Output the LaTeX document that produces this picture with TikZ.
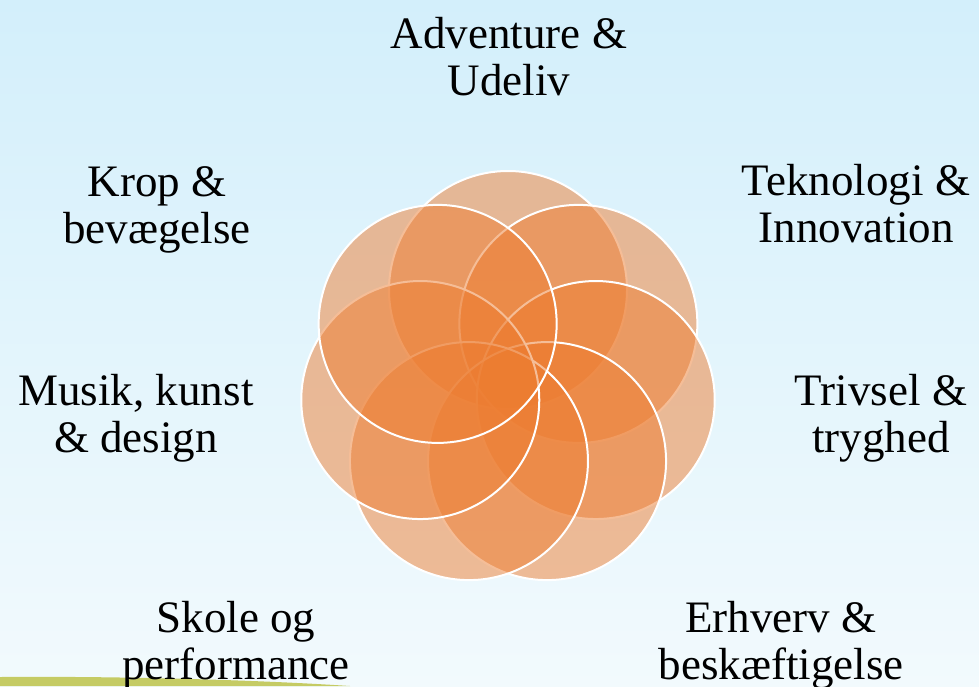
\documentclass[tikz,border=0pt]{standalone}
\usepackage{fontspec}
\setmainfont{Liberation Serif}
\definecolor{petalorange}{HTML}{ED7D31}
\definecolor{skytop}{HTML}{D3EFFB}
\definecolor{skybottom}{HTML}{F2FAFD}
\definecolor{grass}{HTML}{C5CB64}
\tikzset{
  petal/.style={circle,minimum size=238pt,inner sep=0pt,fill=petalorange,fill opacity=.5,draw=white,line width=2pt},
  topic/.style={align=center,anchor=base,font=\fontsize{45}{47}\selectfont,text=black}
}
\begin{document}
\begin{tikzpicture}[x=1pt,y=-1pt]
    \useasboundingbox (0,0) rectangle (979,686);
    \shade[top color=skytop,bottom color=skybottom] (0,0) rectangle (979,686);
    % grass strip bottom left
    \fill[grass] (0,677) .. controls (120,676) and (260,680) .. (350,686) -- (0,686) -- cycle;
    % ring of seven circles, clockwise from the top
    \begin{scope}[shift={(508,380)}]
        \foreach \nm [count=\i] in {adv,tek,tri,erh,sko,mus,kro}
            \node[petal] (\nm) at ({90-(\i-1)*360/7}:90pt) {};
    \end{scope}
    % labels (anchored at the baseline of the last line)
    \node[topic] (advtxt) at (509,95) {Adventure \&\\Udeliv};
    \node[topic] (tektxt) at (856,242) {Teknologi \&\\Innovation};
    \node[topic] (tritxt) at (881,452) {Trivsel \&\\tryghed};
    \node[topic] (erhtxt) at (781,679) {Erhverv \&\\beskæftigelse};
    \node[topic] (skotxt) at (236,679) {Skole og\\performance};
    \node[topic] (mustxt) at (136,452) {Musik, kunst\\\& design};
    \node[topic] (krotxt) at (157,243) {Krop \&\\bevægelse};
\end{tikzpicture}
\end{document}
